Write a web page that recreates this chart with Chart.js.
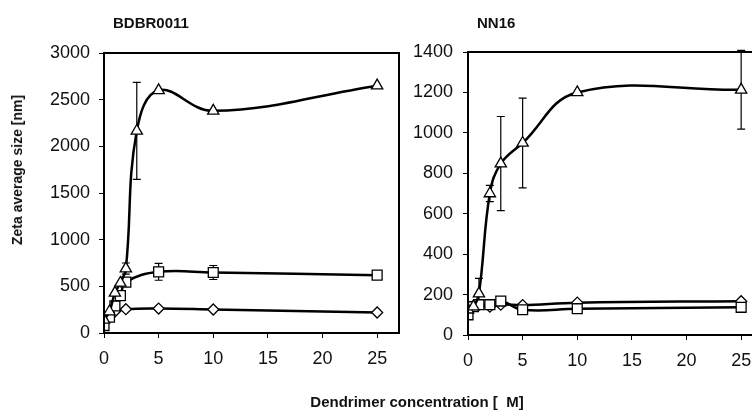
<!DOCTYPE html>
<html>
<head>
<meta charset="utf-8">
<script src="https://cdn.jsdelivr.net/npm/chart.js@4/dist/chart.umd.min.js"></script>
<style>
  html, body { margin:0; padding:0; width:752px; height:414px; overflow:hidden; background:#fff; }
  body { position:relative; font-family:"Liberation Sans", Arial, sans-serif; }
  canvas { position:absolute; top:0; }
  .t { position:absolute; font-weight:bold; color:#111; white-space:pre; }
</style>
</head>
<body>
<canvas id="c1" width="420" height="414" style="left:0px"></canvas>
<canvas id="c2" width="400" height="414" style="left:400px"></canvas>
<div class="t" style="left:113px; top:14px; font-size:15px;">BDBR0011</div>
<div class="t" style="left:477px; top:14px; font-size:15px;">NN16</div>
<div class="t" style="left:0; width:834px; top:393px; font-size:15px; text-align:center;">Dendrimer concentration [  M]</div>
<div class="t" style="left:17px; top:170px; font-size:14px; transform:translate(-50%,-50%) rotate(-90deg);">Zeta average size [nm]</div>
<script>
// ---- BDBR0011 (left panel) ----
const leftTriX = [0, 0.5, 1, 1.5, 2, 3, 5, 10, 25];
const leftTriY = [140, 230, 430, 536, 690, 2165, 2600, 2380, 2650];
const leftTriErr = [0, 0, 0, 0, 60, 520, 0, 0, 0];
const leftSqX = [0, 0.5, 1, 1.5, 2, 5, 10, 25];
const leftSqY = [80, 170, 290, 400, 545, 655, 648, 620];
const leftSqErr = [0, 0, 0, 35, 40, 90, 75, 0];
const leftDiaX = [0, 0.5, 1, 2, 5, 10, 25];
const leftDiaY = [150, 200, 230, 255, 262, 252, 220];
const leftDiaErr = [0, 0, 0, 0, 0, 0, 0];
const leftYTicks = [0, 500, 1000, 1500, 2000, 2500, 3000];

// ---- NN16 (right panel) ----
const rightTriX = [0, 0.5, 1, 2, 3, 5, 10, 25];
const rightTriY = [125, 140, 205, 700, 848, 950, 1200, 1213];
const rightTriErr = [0, 0, 75, 40, 233, 222, 0, 195];
const rightSqX = [0, 0.5, 1, 2, 3, 5, 10, 25];
const rightSqY = [100, 140, 150, 150, 168, 125, 130, 137];
const rightSqErr = [0, 0, 0, 0, 0, 0, 0, 0];
const rightDiaX = [0, 0.5, 1, 2, 3, 5, 10, 25];
const rightDiaY = [130, 145, 150, 140, 150, 148, 160, 167];
const rightDiaErr = [0, 0, 0, 0, 0, 0, 0, 0];
const rightYTicks = [0, 200, 400, 600, 800, 1000, 1200, 1400];

const xTicks = [0, 5, 10, 15, 20, 25];

function pts(xs, ys) { return xs.map((x, i) => ({ x: x, y: ys[i] })); }

function ds(xs, ys, err, style, r) {
  return {
    data: pts(xs, ys), err: err,
    borderColor: '#000', borderWidth: 2.5, tension: 0.4,
    pointStyle: style, pointRadius: r, pointBorderWidth: 1.3,
    pointBackgroundColor: '#fff', pointBorderColor: '#000', fill: false
  };
}

const errorBars = {
  id: 'errorBars',
  beforeDatasetsDraw(chart) {
    const ctx = chart.ctx, xs = chart.scales.x, ys = chart.scales.y;
    ctx.save();
    ctx.strokeStyle = '#000';
    ctx.lineWidth = 1.2;
    chart.data.datasets.forEach(d => {
      d.data.forEach((p, i) => {
        const e = d.err[i];
        if (!e) return;
        const px = xs.getPixelForValue(p.x);
        const top = ys.getPixelForValue(p.y + e);
        const bot = ys.getPixelForValue(p.y - e);
        ctx.beginPath();
        ctx.moveTo(px, top); ctx.lineTo(px, bot);
        ctx.moveTo(px - 4, top); ctx.lineTo(px + 4, top);
        ctx.moveTo(px - 4, bot); ctx.lineTo(px + 4, bot);
        ctx.stroke();
      });
    });
    ctx.restore();
  }
};

const frame = {
  id: 'frame',
  afterDraw(chart) {
    const a = chart.chartArea, ctx = chart.ctx;
    ctx.save();
    ctx.strokeStyle = '#000';
    ctx.lineWidth = 2;
    ctx.strokeRect(a.left, a.top, a.right - a.left, a.bottom - a.top);
    ctx.restore();
  }
};

function makeChart(id, datasets, yTicks, yWidth, pad, xHeight, yPad) {
  const ymax = yTicks[yTicks.length - 1];
  const step = yTicks[1] - yTicks[0];
  return new Chart(document.getElementById(id), {
    type: 'line',
    data: { datasets: datasets },
    plugins: [errorBars, frame],
    options: {
      responsive: false, animation: false, devicePixelRatio: 1,
      layout: { padding: pad },
      plugins: { legend: { display: false }, tooltip: { enabled: false } },
      scales: {
        x: {
          type: 'linear', min: 0, max: 27,
          afterFit(s) { s.height = xHeight; },
          afterBuildTicks(s) { s.ticks = xTicks.map(v => ({ value: v })); },
          grid: { display: true, drawOnChartArea: false, drawTicks: true, tickLength: 5, color: '#000', lineWidth: 1 },
          border: { display: false },
          ticks: { color: '#111', padding: 10, font: { family: 'Liberation Sans', size: 18 }, maxRotation: 0, autoSkip: false,
                   callback: v => String(v) }
        },
        y: {
          type: 'linear', min: 0, max: ymax,
          afterFit(s) { s.width = yWidth; },
          afterBuildTicks(s) { s.ticks = yTicks.map(v => ({ value: v })); },
          grid: { display: true, drawOnChartArea: false, drawTicks: true, tickLength: 5, color: '#000', lineWidth: 1 },
          border: { display: false },
          ticks: { color: '#111', padding: yPad, font: { family: 'Liberation Sans', size: 18 }, stepSize: step, autoSkip: false,
                   callback: v => String(v) }
        }
      }
    }
  });
}

makeChart('c1', [
  ds(leftTriX, leftTriY, leftTriErr, 'triangle', 6.5),
  ds(leftSqX, leftSqY, leftSqErr, 'rect', 7),
  ds(leftDiaX, leftDiaY, leftDiaErr, 'rectRot', 5.5)
], leftYTicks, 104, { top: 53, right: 21, left: 0, bottom: 0 }, 81, 9);

makeChart('c2', [
  ds(rightTriX, rightTriY, rightTriErr, 'triangle', 6.5),
  ds(rightSqX, rightSqY, rightSqErr, 'rect', 7),
  ds(rightDiaX, rightDiaY, rightDiaErr, 'rectRot', 5.5)
], rightYTicks, 68, { top: 52, right: 37, left: 0, bottom: 0 }, 79, 10);
</script>
</body>
</html>
